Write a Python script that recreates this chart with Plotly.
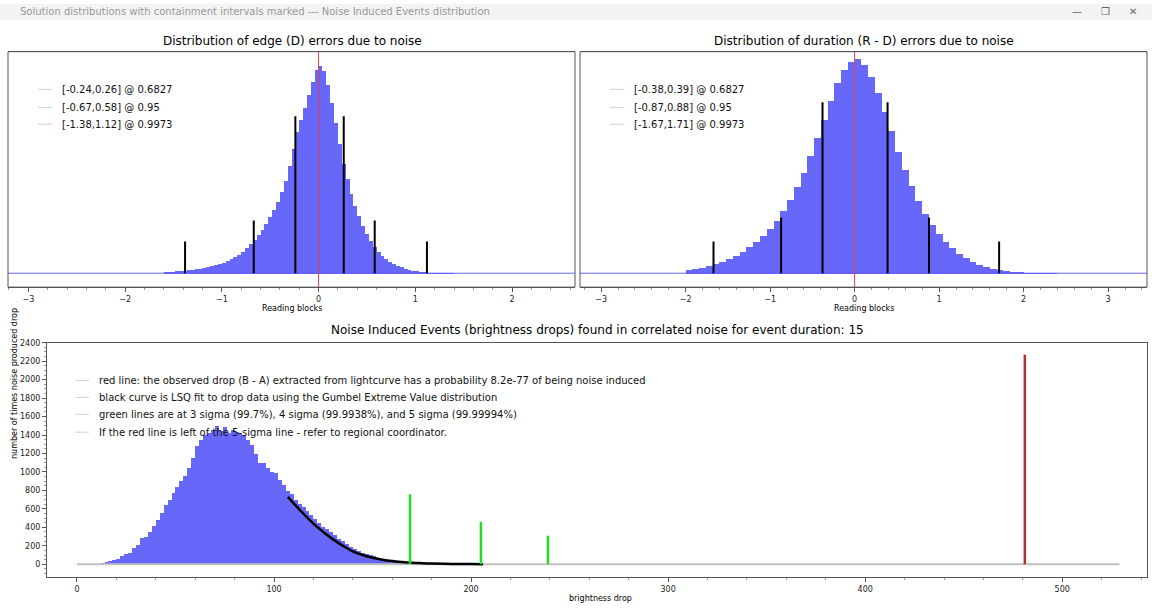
import numpy as np
import plotly.graph_objects as go

# --- top left: edge (D) errors, bins of 0.04 starting at -1.60
d_start, d_width = -1.60, 0.04
d_counts = [2, 2, 2, 3, 3, 3, 4, 4, 5, 5, 6, 7, 8, 9, 10, 11, 13,
            15, 17, 19, 22, 26, 30, 34, 39, 44, 50, 57, 64, 72, 82, 93, 108,
            125, 142, 155, 167, 180, 193, 205, 209, 204, 190, 172, 152, 130,
            110, 95, 80, 68, 58, 48, 40, 33, 27, 22, 18, 15, 12, 10, 8, 7,
            5, 4, 3, 3, 2, 2, 1, 1, 1, 1, 1, 1, 1]
d_intervals = [(-0.24, 0.26, 158), (-0.67, 0.58, 53), (-1.38, 1.12, 32)]
d_labels = ["[-0.24,0.26] @ 0.6827", "[-0.67,0.58] @ 0.95", "[-1.38,1.12] @ 0.9973"]

# --- top right: duration (R - D) errors, bins of 0.08 starting at -2.00
r_start, r_width = -2.00, 0.08
r_counts = [4, 5, 6, 8, 10, 12, 15, 18, 22, 27, 32, 38, 45,
            53, 63, 74, 87, 101, 118, 136, 155, 174, 192, 205, 213, 216, 210,
            198, 182, 163, 143, 122, 104, 88, 73, 60, 49, 40, 32, 26, 20, 16,
            12, 9, 7, 5, 4, 3, 2, 2, 1, 1, 1, 1, 1]
r_intervals = [(-0.38, 0.39, 172), (-0.87, 0.88, 56), (-1.67, 1.71, 32)]
r_labels = ["[-0.38,0.39] @ 0.6827", "[-0.87,0.88] @ 0.95", "[-1.67,1.71] @ 0.9973"]

# --- bottom: brightness drops, bins of 2 starting at 0
b_start, b_width = 0, 2
b_counts = [0, 0, 1, 2, 4, 8, 15, 25, 40, 50, 60, 90, 110, 120, 180, 210,
            290, 300, 350, 420, 480, 560, 650, 700, 780, 840, 900, 960, 1050,
            1150, 1280, 1350, 1400, 1430, 1460, 1500, 1450, 1490, 1420, 1460,
            1440, 1420, 1400, 1350, 1300, 1200, 1100, 1100, 1050, 1000, 990,
            920, 860, 800, 760, 700, 660, 620, 580, 540, 490, 450, 410, 380,
            350, 320, 280, 250, 220, 190, 170, 150, 130, 115, 100, 90, 75, 62,
            52, 44, 38, 32, 26, 22, 18, 15, 12, 10, 8, 7, 6, 5, 4, 3, 3, 2, 2,
            2, 1, 1, 1, 1, 1, 1]
fit_x = [107, 110, 115, 120, 125, 130, 135, 140, 145, 150, 155, 160, 165,
         170, 175, 180, 190, 200, 206]
fit_y = [730, 660, 545, 440, 350, 270, 200, 140, 100, 70, 50, 35, 25, 17,
         12, 8, 4, 2, 1]
sigma_x = [169, 205, 239]
sigma_h = [760, 460, 310]
observed_drop = 481
observed_h = 2270
b_labels = [
    "red line: the observed drop (B - A) extracted from lightcurve has a probability 8.2e-77 of being noise induced",
    "black curve is LSQ fit to drop data using the Gumbel Extreme Value distribution",
    "green lines are at 3 sigma (99.7%), 4 sigma (99.9938%), and 5 sigma (99.99994%)",
    "If the red line is left of the 5-sigma line - refer to regional coordinator.",
]

BLUE = "rgba(95,95,250,0.95)"
fig = go.Figure()


def centers(start, width, counts):
    return start + width * (np.arange(len(counts)) + 0.5)


def vlines(xs, hs):
    x, y = [], []
    for xx, hh in zip(xs, hs):
        x += [xx, xx, None]
        y += [0, hh, None]
    return x, y


for ax, (start, width, counts, ivs, xr) in enumerate(
        [(d_start, d_width, d_counts, d_intervals, [-3.21, 2.65]),
         (r_start, r_width, r_counts, r_intervals, [-3.25, 3.46])]):
    xa = "x" if ax == 0 else "x2"
    ya = "y" if ax == 0 else "y2"
    fig.add_trace(go.Scatter(x=xr, y=[0, 0], mode="lines", line=dict(color=BLUE, width=1),
                             xaxis=xa, yaxis=ya, showlegend=False))
    fig.add_trace(go.Bar(x=centers(start, width, counts), y=counts, width=width,
                         marker=dict(color=BLUE, line=dict(width=0)),
                         xaxis=xa, yaxis=ya, showlegend=False))
    xs = [v for iv in ivs for v in iv[:2]]
    hs = [iv[2] for iv in ivs for _ in range(2)]
    lx, ly = vlines(xs, hs)
    fig.add_trace(go.Scatter(x=lx, y=ly, mode="lines", line=dict(color="black", width=2),
                             xaxis=xa, yaxis=ya, showlegend=False))
    fig.add_trace(go.Scatter(x=[0, 0], y=[-20, 230], mode="lines", line=dict(color="#e04040", width=1),
                             xaxis=xa, yaxis=ya, showlegend=False))

# bottom panel
fig.add_trace(go.Scatter(x=[0, 529], y=[0, 0], mode="lines", line=dict(color="#c0c0c0", width=2),
                         xaxis="x3", yaxis="y3", showlegend=False))
fig.add_trace(go.Bar(x=centers(b_start, b_width, b_counts), y=b_counts, width=b_width,
                     marker=dict(color=BLUE, line=dict(width=0)),
                     xaxis="x3", yaxis="y3", showlegend=False))
fig.add_trace(go.Scatter(x=fit_x, y=fit_y, mode="lines", line=dict(color="black", width=2.5, shape="spline"),
                         xaxis="x3", yaxis="y3", showlegend=False))
gx, gy = vlines(sigma_x, sigma_h)
fig.add_trace(go.Scatter(x=gx, y=gy, mode="lines", line=dict(color="#22dd22", width=2.5),
                         xaxis="x3", yaxis="y3", showlegend=False))
fig.add_trace(go.Scatter(x=[observed_drop, observed_drop], y=[0, observed_h], mode="lines",
                         line=dict(color="#b03030", width=2.5),
                         xaxis="x3", yaxis="y3", showlegend=False))

W, H = 1152, 608


def px(xp):
    return xp / W


def py(yp):
    return 1 - yp / H


ann = []
shapes = []
FONT = "DejaVu Sans"


def legend_block(x0, ys, labels):
    for yp, lab in zip(ys, labels):
        shapes.append(dict(type="line", xref="paper", yref="paper", x0=px(x0), x1=px(x0 + 14),
                           y0=py(yp), y1=py(yp), line=dict(color="#d0d0d0", width=1)))
        ann.append(dict(text=lab, xref="paper", yref="paper", x=px(x0 + 22), y=py(yp),
                        xanchor="left", yanchor="middle", showarrow=False,
                        font=dict(size=10, color="#111", family=FONT)))


legend_block(38, [86, 104, 121], d_labels)
legend_block(610, [86, 104, 121], r_labels)
legend_block(75, [379, 396, 413, 431], b_labels)

for x, y, t, s in [(292, 37, "Distribution of edge (D) errors due to noise", 12),
                   (864, 37, "Distribution of duration (R - D) errors due to noise", 12),
                   (597, 328, "Noise Induced Events (brightness drops) found in correlated noise for event duration: 15", 12),
                   (292, 307, "Reading blocks", 8),
                   (864, 307, "Reading blocks", 8),
                   (600, 598, "brightness drop", 8)]:
    ann.append(dict(text=t, xref="paper", yref="paper", x=px(x), y=py(y), showarrow=False,
                    xanchor="center", yanchor="middle", font=dict(size=s, color="#000", family=FONT)))
ann.append(dict(text="number of times noise produced drop", xref="paper", yref="paper",
                x=px(8), y=py(460), textangle=-90, showarrow=False,
                font=dict(size=8, color="#000", family=FONT)))
ann.append(dict(text="Solution distributions with containment intervals marked --- Noise Induced Events distribution",
                xref="paper", yref="paper", x=px(18), y=py(8), xanchor="left", yanchor="middle",
                showarrow=False, font=dict(size=10, color="#999", family=FONT)))
ann.append(dict(text="—      ❐      ✕", xref="paper", yref="paper", x=px(1140), y=py(8),
                xanchor="right", yanchor="middle", showarrow=False,
                font=dict(size=10, color="#666", family=FONT)))
shapes.append(dict(type="rect", xref="paper", yref="paper", x0=0, x1=1, y0=py(16), y1=1,
                   fillcolor="#f3f3f3", line=dict(width=0), layer="below"))

axis_common = dict(showline=True, mirror=True, linecolor="#555", linewidth=1, showgrid=False,
                   zeroline=False, ticks="outside", ticklen=4, tickcolor="#555",
                   tickfont=dict(size=8, color="#222", family=FONT),
                   minor=dict(ticks="outside", ticklen=2, tickcolor="#999", nticks=5))

fig.update_layout(
    width=W, height=H, margin=dict(l=0, r=0, t=0, b=0),
    paper_bgcolor="white", plot_bgcolor="white",
    barmode="overlay", bargap=0, showlegend=False,
    xaxis=dict(axis_common, domain=[px(8), px(575)], range=[-3.21, 2.65], dtick=1, anchor="y"),
    yaxis=dict(domain=[py(285), py(48)], range=[-14, 223], visible=False, anchor="x"),
    xaxis2=dict(axis_common, domain=[px(580), px(1147)], range=[-3.25, 3.46], dtick=1, anchor="y2"),
    yaxis2=dict(domain=[py(285), py(48)], range=[-14, 223], visible=False, anchor="x2"),
    xaxis3=dict(axis_common, domain=[px(47), px(1147)], range=[-15.2, 543], dtick=100, anchor="y3"),
    yaxis3=dict(axis_common, domain=[py(577), py(341)], range=[-140, 2400], dtick=200, anchor="x3"),
    annotations=ann, shapes=shapes,
)

# mirror frame for top panels (y axes hidden)
for d in (dict(x0=px(8), x1=px(575)), dict(x0=px(580), x1=px(1147))):
    fig.add_shape(type="rect", xref="paper", yref="paper", y0=py(285), y1=py(48),
                  line=dict(color="#555", width=1), **d)

fig.write_html("out.html", config={"displayModeBar": False})

# drop the browser's default page margin so the figure fills the window
with open("out.html", encoding="utf-8") as f:
    page = f.read()
page = page.replace("<body>", '<body style="margin:0;overflow:hidden">', 1)
with open("out.html", "w", encoding="utf-8") as f:
    f.write(page)
